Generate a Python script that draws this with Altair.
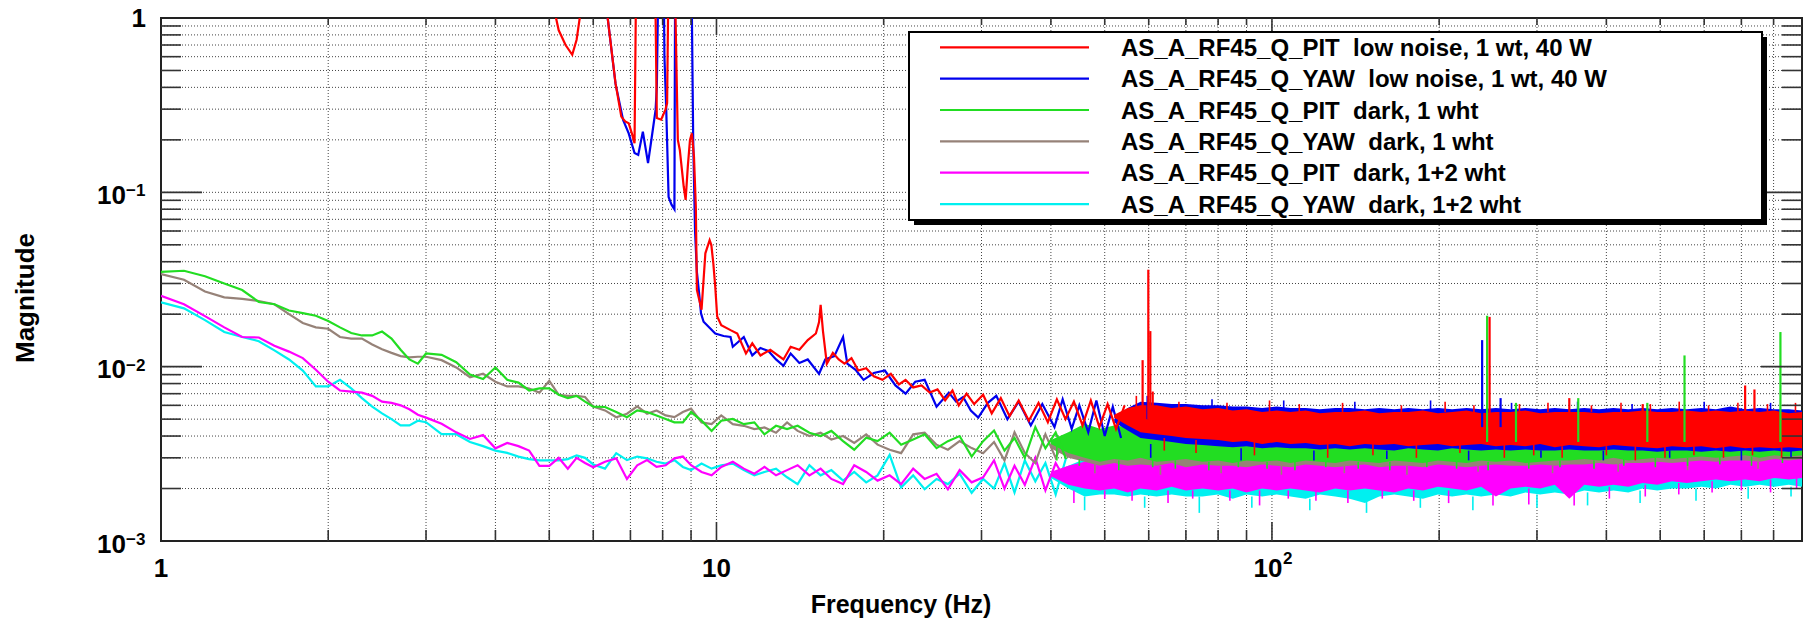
import altair as alt
import pandas as pd

FONT = "Liberation Sans"
W, H = 1641, 523          # plot area in pixels
MILLI = 1e-3              # all magnitudes below are written in units of 1e-3

# ---------------------------------------------------------------- colours
RED, BLUE, GREEN, BROWN, MAGENTA, CYAN = (
    "#ff0000", "#0000ee", "#22dd22", "#968278", "#ff00ff", "#00f0f0")

LEGEND_LABELS = [
    "AS_A_RF45_Q_PIT\u00a0\u00a0low noise, 1 wt, 40 W",
    "AS_A_RF45_Q_YAW\u00a0\u00a0low noise, 1 wt, 40 W",
    "AS_A_RF45_Q_PIT\u00a0\u00a0dark, 1 wht",
    "AS_A_RF45_Q_YAW\u00a0\u00a0dark, 1 wht",
    "AS_A_RF45_Q_PIT\u00a0\u00a0dark, 1+2 wht",
    "AS_A_RF45_Q_YAW\u00a0\u00a0dark, 1+2 wht",
]
LEGEND_COLORS = [RED, BLUE, GREEN, BROWN, MAGENTA, CYAN]

# ------------------------------------------- low-frequency traces, dark runs
FD = [1.0, 1.1, 1.2, 1.3, 1.4, 1.5, 1.6, 1.7, 1.8, 1.9,
      2.0, 2.1, 2.2, 2.3, 2.4, 2.5, 2.6, 2.7, 2.8, 2.9,
      3.0, 3.2, 3.4, 3.6, 3.8, 4.0, 4.2, 4.4, 4.6, 4.8,
      5.0, 5.2, 5.4, 5.6, 5.8, 6.0, 6.3, 6.6, 6.9, 7.2,
      7.5, 7.8, 8.1, 8.4, 8.7, 9.0, 9.4, 9.8, 10.2, 10.7,
      11.2, 11.7, 12.2, 12.8, 13.4, 14.0, 14.7, 15.4, 16.1, 16.9,
      17.7, 18.6, 19.5, 20.5, 21.5, 22.6, 23.7, 24.9, 26.1, 27.4,
      28.8, 30.2, 31.6, 33.0, 34.4, 35.9, 37.5, 39.1, 40.8, 42.6]

GREEN_LOW = [35.0, 35.5, 33.0, 30.0, 27.5, 23.5, 22.8, 21.0, 20.3, 19.6,
             18.3, 16.8, 15.6, 15.1, 15.1, 15.9, 14.5, 12.5, 11.0, 10.4,
             11.9, 11.7, 10.6, 9.0, 8.5, 9.9, 8.4, 8.1, 7.3, 7.5,
             7.5, 6.9, 6.6, 6.8, 6.3, 5.9, 5.87, 5.49, 5.13, 5.61,
             5.49, 5.25, 5.01, 4.79, 4.79, 5.49, 4.90, 4.28, 4.90, 5.01,
             4.68, 4.79, 4.09, 4.58, 4.38, 4.58, 4.18, 4.00, 4.28, 3.74,
             3.34, 3.91, 3.74, 4.18, 3.57, 3.82, 4.09, 3.41, 3.74, 4.00,
             3.05, 3.74, 4.3, 3.3, 3.9, 3.0, 4.5, 3.4, 4.2, 2.95]

BROWN_LOW = [34.0, 31.5, 27.0, 25.0, 24.5, 23.8, 22.8, 20.0, 17.8, 16.8,
             16.5, 14.8, 14.5, 14.5, 13.4, 12.6, 12.0, 11.5, 11.3, 11.4,
             11.4, 10.9, 9.9, 8.7, 9.1, 8.2, 7.7, 7.7, 7.5, 7.1,
             8.3, 6.9, 6.8, 6.8, 6.7, 5.9, 5.61, 5.13, 5.37, 5.92,
             5.37, 5.61, 5.25, 5.13, 5.49, 5.74, 4.79, 4.68, 5.25, 4.68,
             4.58, 4.38, 4.48, 4.18, 4.79, 4.28, 4.00, 4.18, 3.82, 4.00,
             3.65, 4.09, 3.57, 3.34, 3.19, 4.09, 4.18, 3.57, 3.34, 3.74,
             3.41, 3.19, 3.7, 2.9, 4.2, 3.2, 2.8, 4.1, 3.0, 4.0]

MAGENTA_LOW = [25.5, 22.8, 19.5, 16.8, 14.8, 14.7, 13.2, 12.2, 11.2, 9.6,
               8.2, 7.3, 7.2, 7.1, 6.8, 6.3, 6.2, 6.0, 5.7, 5.3,
               5.1, 4.7, 4.2, 3.85, 4.05, 3.4, 3.65, 3.5, 3.3, 2.7,
               2.7, 3.0, 2.6, 3.0, 2.8, 2.65, 2.85, 2.98, 2.27, 2.72,
               2.91, 2.66, 2.72, 2.98, 3.05, 2.72, 2.49, 2.38, 2.66, 2.85,
               2.60, 2.43, 2.66, 2.38, 2.55, 2.72, 2.38, 2.60, 2.27, 2.12,
               2.72, 2.49, 2.22, 2.38, 2.12, 2.60, 2.27, 2.43, 1.98, 2.55,
               2.17, 2.32, 2.9, 2.0, 2.7, 2.1, 3.0, 1.95, 2.8, 2.2]

CYAN_LOW = [23.4, 21.6, 18.5, 15.8, 14.8, 14.0, 12.4, 11.0, 9.5, 7.7,
            7.7, 8.4, 7.5, 6.6, 5.9, 5.4, 5.0, 4.6, 4.6, 4.9,
            4.8, 4.1, 4.1, 3.7, 3.5, 3.3, 3.2, 3.05, 2.95, 2.9,
            2.9, 2.9, 2.95, 3.1, 3.0, 2.75, 2.60, 3.19, 2.91, 3.05,
            2.98, 2.85, 2.78, 2.91, 2.66, 2.55, 2.78, 2.60, 2.72, 2.78,
            2.55, 2.38, 2.49, 2.60, 2.32, 2.12, 2.72, 2.38, 2.55, 2.22,
            2.49, 2.17, 2.38, 3.12, 2.03, 2.38, 1.98, 2.27, 2.12, 2.43,
            1.89, 2.27, 2.0, 2.8, 1.9, 2.9, 2.2, 2.8, 1.85, 3.0]

# ------------------------------------------ low-frequency traces, 40 W lock
# (values of 3000 sit above the top of the plot and are clipped)
RED_F = [4.5, 5.05, 5.2, 5.35, 5.5, 5.6, 5.72, 5.8, 6.2, 6.37,
         6.47, 6.58, 6.74, 6.85, 6.95, 7.05, 7.12, 7.18, 7.7, 7.77,
         7.81, 7.95, 8.09, 8.15, 8.21, 8.4, 8.44, 8.52, 8.59, 8.73,
         8.80, 8.88, 8.96, 9.03, 9.11, 9.18, 9.22, 9.31, 9.40, 9.55,
         9.72, 9.79, 9.87, 9.95, 10.03, 10.2, 10.6, 10.9, 11.3, 11.6,
         12.0, 12.5, 13.2, 13.6, 14.1, 14.6, 15.1, 15.3, 15.4, 15.55,
         15.8, 16.2, 16.6, 17.0, 17.5, 18.0, 18.6, 19.2, 19.9, 20.6,
         21.3, 21.9, 22.6, 23.4, 24.2, 25.0, 25.8, 26.6, 27.3, 28.2,
         29.1, 30.2, 31.3, 32.5, 33.7, 35.0, 36.5, 38.0, 39.5, 41.0,
         42.5, 44.0, 45.6, 47.2, 48.9, 50.6, 52.4, 54.3]
RED_M = [3000, 1300, 850, 700, 615, 750, 1200, 3000, 3000, 1000,
         660, 423, 272, 255, 249, 215, 191, 3000, 3000, 1000,
         267, 261, 297, 325, 3000, 3000, 1000, 200, 175, 108,
         90.6, 141, 200, 218, 160, 83, 27.6, 24.2, 21.2, 44.7,
         53.2, 49.8, 39.2, 28.7, 19.4, 17.3, 16.2, 15.5, 11.9, 13.6,
         11.6, 12.5, 11.0, 13.0, 12.5, 14.2, 15.5, 18.0, 22.6, 16.0,
         10.4, 12.0, 11.0, 10.4, 11.2, 9.5, 9.8, 8.8, 8.4, 9.1,
         7.9, 8.4, 7.6, 7.8, 7.1, 7.4, 6.4, 7.3, 6.0, 7.0,
         6.1, 6.9, 5.4, 6.6, 5.2, 6.4, 4.9, 6.2, 4.8, 6.5,
         5.0, 6.3, 4.6, 6.4, 4.5, 6.1, 4.4, 6.0]

BLUE_F = [6.0, 6.37, 6.58, 6.79, 6.95, 7.12, 7.23, 7.37, 7.53, 7.65,
          7.77, 7.81, 7.88, 8.02, 8.06, 8.12, 8.2, 8.3, 8.4, 8.43,
          9.0, 9.08, 9.15, 9.22, 9.31, 9.38, 9.48, 9.95, 10.3, 10.6,
          10.7, 11.2, 11.6, 12.0, 12.4, 12.8, 13.2, 13.6, 14.1, 14.6,
          15.3, 15.7, 16.3, 16.9, 17.2, 17.8, 18.4, 19.2, 20.1, 21.0,
          21.9, 22.8, 23.7, 24.9, 26.2, 27.0, 27.8, 28.7, 29.6, 30.8,
          31.9, 33.4, 35.0, 36.8, 38.6, 40.6, 42.0, 43.6, 45.0, 46.7,
          48.3, 50.0, 51.7, 53.5]
BLUE_M = [3000, 1000, 420, 260, 218, 168, 164, 223, 147, 209,
          297, 404, 3000, 3000, 600, 300, 94, 85, 80, 3000,
          3000, 200, 60, 35, 26, 20.2, 18.1, 15.5, 15.0, 14.8,
          13.0, 14.8, 11.6, 12.8, 12.3, 11.0, 10.1, 11.9, 10.5, 11.0,
          9.1, 11.0, 11.5, 14.8, 10.4, 9.6, 8.4, 9.2, 9.5, 7.8,
          7.0, 8.2, 8.4, 5.9, 7.1, 6.3, 6.7, 5.6, 5.1, 6.2,
          6.8, 5.0, 6.3, 4.6, 6.1, 4.5, 6.5, 4.4, 6.0, 4.2,
          6.4, 4.0, 5.9, 3.9]

# ------------------------------- dense high-frequency noise: upper / lower
FB = [40, 43, 46, 49, 52, 55, 58, 62, 66, 70,
      75, 80, 85, 90, 96, 102, 108, 115, 122, 130,
      138, 147, 156, 166, 176, 187, 199, 211, 224, 238,
      253, 269, 286, 304, 323, 343, 365, 388, 412, 438,
      465, 494, 525, 558, 593, 630, 669, 711, 755, 802,
      852, 900]

# red and blue bands begin at 52 Hz (FB[4:])
RED_HI = [5.3, 5.8, 6.0, 6.0, 5.8, 5.9, 5.7, 5.8, 5.6, 5.7,
          5.5, 5.6, 5.5, 5.6, 5.4, 5.5, 5.5, 5.6, 5.4, 5.5,
          5.5, 5.6, 5.4, 5.5, 5.6, 5.4, 5.5, 5.5, 5.6, 5.4,
          5.5, 5.5, 5.5, 5.4, 5.5, 5.5, 5.6, 5.5, 5.5, 5.6,
          5.5, 5.6, 5.5, 5.6, 5.5, 5.6, 5.4, 5.5]
RED_LO = [5.1, 4.6, 4.2, 4.1, 4.0, 3.9, 3.85, 3.8, 3.7, 3.75,
          3.6, 3.7, 3.6, 3.65, 3.55, 3.6, 3.5, 3.6, 3.55, 3.6,
          3.5, 3.55, 3.6, 3.5, 3.55, 3.6, 3.5, 3.55, 3.5, 3.6,
          3.45, 3.55, 3.5, 3.45, 3.55, 3.5, 3.45, 3.4, 3.5, 3.45,
          3.5, 3.4, 3.5, 3.4, 3.45, 3.4, 3.45, 3.4]
BLUE_HI = [5.0, 5.8, 6.3, 6.2, 6.1, 6.1, 6.0, 6.0, 5.9, 5.9,
           5.8, 5.9, 5.8, 5.8, 5.7, 5.8, 5.8, 5.7, 5.8, 5.7,
           5.8, 5.7, 5.8, 5.7, 5.8, 5.7, 5.8, 5.7, 5.8, 5.7,
           5.8, 5.7, 5.8, 5.7, 5.8, 5.7, 5.8, 5.7, 5.8, 5.7,
           5.8, 5.7, 5.9, 5.7, 5.8, 5.7, 5.7, 5.6]
BLUE_LO = [4.8, 4.3, 3.9, 3.8, 3.7, 3.6, 3.55, 3.5, 3.45, 3.5,
           3.4, 3.45, 3.4, 3.4, 3.35, 3.4, 3.35, 3.4, 3.35, 3.3,
           3.4, 3.35, 3.3, 3.4, 3.35, 3.3, 3.35, 3.3, 3.35, 3.3,
           3.3, 3.35, 3.3, 3.3, 3.35, 3.3, 3.3, 3.25, 3.3, 3.3,
           3.25, 3.3, 3.25, 3.3, 3.25, 3.3, 3.25, 3.3]

GREEN_HI = [3.8, 4.2, 4.7, 4.4, 4.6, 4.5, 4.5, 4.4, 4.6, 4.3,
            4.4, 4.4, 4.3, 4.5, 4.3, 4.2, 4.4, 4.3, 4.2, 4.3,
            4.4, 4.2, 4.3, 4.3, 4.2, 4.4, 4.3, 4.2, 4.3, 4.3,
            4.4, 4.2, 4.3, 4.2, 4.3, 4.4, 4.3, 4.3, 4.4, 4.3,
            4.4, 4.4, 4.3, 4.5, 4.4, 4.4, 4.3, 4.5, 4.4, 4.5,
            4.4, 4.5]
GREEN_LO = [3.6, 3.2, 3.0, 2.85, 2.95, 2.9, 3.0, 2.85, 2.9, 2.95,
            2.85, 2.9, 2.8, 2.9, 2.85, 2.9, 2.8, 2.9, 2.85, 2.8,
            2.9, 2.85, 2.8, 2.9, 2.85, 2.8, 2.9, 2.85, 2.8, 2.9,
            2.85, 2.9, 2.8, 2.85, 2.9, 2.9, 2.95, 2.9, 3.0, 2.9,
            2.95, 3.0, 2.95, 3.0, 3.05, 3.0, 3.05, 3.1, 3.0, 3.1,
            3.05, 3.1]

BROWN_HI = [3.6, 3.9, 4.4, 4.2, 4.3, 4.2, 4.3, 4.1, 4.2, 4.1,
            4.2, 4.1, 4.0, 4.2, 4.1, 4.0, 4.1, 4.2, 4.0, 4.1,
            4.1, 4.0, 4.1, 4.2, 4.0, 4.1, 4.0, 4.1, 4.2, 4.0,
            4.1, 4.1, 4.0, 4.1, 4.1, 4.2, 4.1, 4.1, 4.2, 4.1,
            4.2, 4.2, 4.1, 4.2, 4.2, 4.3, 4.2, 4.2, 4.3, 4.2,
            4.3, 4.2]
BROWN_LO = [3.4, 3.0, 2.85, 2.7, 2.8, 2.7, 2.75, 2.7, 2.8, 2.65,
            2.75, 2.7, 2.7, 2.65, 2.75, 2.7, 2.65, 2.75, 2.7, 2.65,
            2.7, 2.75, 2.65, 2.7, 2.7, 2.65, 2.75, 2.7, 2.65, 2.7,
            2.75, 2.7, 2.7, 2.75, 2.7, 2.75, 2.75, 2.8, 2.75, 2.8,
            2.8, 2.85, 2.8, 2.85, 2.9, 2.85, 2.9, 2.9, 2.85, 2.95,
            2.9, 2.95]

MAGENTA_HI = [2.5, 2.7, 2.85, 2.95, 2.9, 2.85, 2.95, 2.9, 2.85, 2.95,
              2.9, 2.95, 2.85, 2.9, 2.95, 2.9, 2.85, 2.95, 2.9, 2.95,
              2.9, 2.85, 2.95, 2.9, 2.95, 3.0, 2.95, 3.0, 3.05, 3.0,
              3.05, 3.1, 3.05, 3.1, 3.15, 3.1, 3.15, 3.2, 3.15, 3.2,
              3.25, 3.2, 3.3, 3.25, 3.3, 3.35, 3.3, 3.4, 3.35, 3.4,
              3.35, 3.4]
MAGENTA_LO = [2.35, 2.1, 2.0, 1.95, 2.0, 1.9, 2.0, 1.95, 2.05, 1.95,
              2.0, 1.95, 2.0, 1.9, 2.0, 1.95, 2.0, 1.95, 1.9, 2.0,
              1.95, 2.0, 1.95, 1.9, 2.0, 1.95, 2.05, 2.0, 1.95, 2.05,
              1.8, 2.0, 2.05, 2.0, 2.1, 1.75, 2.1, 2.05, 2.1, 2.05,
              2.15, 2.1, 2.2, 2.15, 2.2, 2.25, 2.2, 2.25, 2.2, 2.3,
              2.25, 2.3]

CYAN_HI = [2.45, 2.7, 2.95, 2.9, 2.95, 2.9, 3.0, 2.9, 2.95, 3.0,
           2.95, 2.9, 3.0, 2.95, 3.0, 2.95, 2.9, 3.0, 2.95, 3.0,
           2.95, 2.9, 3.0, 2.95, 3.0, 3.05, 3.0, 3.05, 3.0, 3.1,
           3.05, 3.1, 3.1, 3.15, 3.2, 3.15, 3.2, 3.25, 3.2, 3.25,
           3.3, 3.25, 3.35, 3.3, 3.35, 3.4, 3.35, 3.45, 3.4, 3.45,
           3.4, 3.45]
CYAN_LO = [2.3, 2.0, 1.8, 1.85, 1.85, 1.8, 1.85, 1.8, 1.85, 1.8,
           1.8, 1.85, 1.75, 1.85, 1.8, 1.85, 1.8, 1.75, 1.85, 1.8,
           1.75, 1.65, 1.8, 1.85, 1.8, 1.75, 1.85, 1.8, 1.85, 1.8,
           1.85, 1.8, 1.9, 1.85, 1.9, 1.85, 1.95, 1.9, 1.95, 1.9,
           2.0, 1.95, 2.0, 2.0, 2.05, 2.0, 2.1, 2.05, 2.1, 2.05,
           2.1, 2.05]

# short excursions poking out of each noise band: frequency, from, to
RED_FUZZ_F = [57, 64, 68, 73, 83, 93, 99, 112, 126, 134,
              152, 171, 182, 205, 218, 231, 262, 279, 296, 314,
              333, 376, 400, 425, 451, 480, 510, 541, 575, 611,
              650, 690, 733, 780, 827, 876]
RED_FUZZ_A = [5.8, 3.9, 5.5, 3.8, 5.5, 3.7, 5.5, 5.5, 3.6, 5.5,
              3.6, 5.5, 3.6, 5.5, 3.6, 5.5, 3.6, 5.5, 3.6, 5.5,
              3.5, 5.5, 3.5, 5.5, 3.5, 5.5, 3.5, 5.5, 3.5, 5.5,
              3.5, 5.5, 3.5, 5.5, 3.5, 5.5]
RED_FUZZ_B = [6.8, 3.3, 6.3, 3.2, 6.2, 3.1, 6.4, 6.1, 3.0, 6.2,
              3.1, 6.0, 3.0, 6.3, 3.2, 6.0, 3.0, 6.1, 3.1, 6.2,
              3.0, 6.0, 3.1, 6.2, 2.9, 6.1, 3.0, 6.3, 3.1, 6.0,
              3.0, 6.2, 3.1, 6.1, 3.0, 6.2]

BLUE_FUZZ_F = [60.5, 78, 88, 105, 119, 141, 161, 193, 226, 270,
               305, 355, 395, 445, 520, 600, 700, 790, 860]
BLUE_FUZZ_A = [3.6, 5.7, 3.4, 5.7, 3.3, 5.7, 3.3, 5.7, 3.3, 5.7,
               3.3, 5.7, 3.3, 5.7, 3.3, 5.7, 3.3, 5.7, 3.3]
BLUE_FUZZ_B = [3.0, 6.5, 2.9, 6.4, 2.9, 6.3, 2.95, 6.4, 2.9, 6.2,
               3.0, 6.3, 2.9, 6.1, 3.0, 6.3, 2.9, 6.2, 3.0]

GREEN_FUZZ_F = [41, 45, 53, 61, 67, 77, 87, 98, 110, 125,
                143, 163, 190, 215, 245, 290, 330, 380, 430, 490,
                560, 640, 730, 830]
GREEN_FUZZ_A = [3.5, 2.95, 2.9, 2.9, 2.9, 2.85, 2.85, 2.85, 2.85, 2.85,
                2.85, 2.85, 2.85, 2.85, 2.85, 2.85, 2.9, 2.9, 2.95, 3.0,
                3.0, 3.05, 3.05, 3.1]
GREEN_FUZZ_B = [2.9, 2.7, 2.55, 2.65, 2.6, 2.55, 2.65, 2.6, 2.55, 2.65,
                2.6, 2.55, 2.65, 2.6, 2.55, 2.6, 2.65, 2.6, 2.7, 2.65,
                2.7, 2.75, 2.7, 2.8]

BROWN_FUZZ_F = [48, 63, 81, 104, 135, 175, 235, 320, 420, 560, 750]
BROWN_FUZZ_A = [2.75, 2.7, 2.7, 2.7, 2.7, 2.7, 2.7, 2.7, 2.8, 2.85, 2.85]
BROWN_FUZZ_B = [2.45, 2.4, 2.45, 2.4, 2.45, 2.4, 2.5, 2.45, 2.5, 2.55, 2.6]

MAGENTA_FUZZ_F = [44, 50, 56, 65, 72, 84, 95, 107, 120, 137,
                  158, 180, 208, 250, 290, 350, 405, 470, 540, 620,
                  700, 790, 880]
MAGENTA_FUZZ_A = [1.95, 1.95, 1.95, 1.95, 1.95, 1.95, 1.95, 1.95, 1.95, 1.95,
                  1.95, 1.95, 1.95, 2.0, 2.0, 2.0, 2.05, 2.1, 2.15, 2.2,
                  2.25, 2.25, 2.3]
MAGENTA_FUZZ_B = [1.65, 1.75, 1.7, 1.65, 1.75, 1.7, 1.6, 1.75, 1.7, 1.65,
                  1.75, 1.7, 1.65, 1.6, 1.62, 1.6, 1.75, 1.8, 1.85, 1.9,
                  1.95, 1.9, 2.0]

CYAN_FUZZ_F = [46, 59, 74, 92, 117, 148, 185, 230, 300, 370,
               460, 580, 720, 860]
CYAN_FUZZ_A = [1.8, 1.8, 1.8, 1.8, 1.75, 1.75, 1.8, 1.8, 1.85, 1.9,
               1.95, 2.0, 2.05, 2.05]
CYAN_FUZZ_B = [1.5, 1.55, 1.45, 1.55, 1.5, 1.45, 1.55, 1.5, 1.55, 1.6,
               1.65, 1.7, 1.75, 1.8]

# ------------------------------------------------ narrow lines (spikes)
RED_SPIKE_F = [58.5, 59.9, 60.4, 61.0, 246.5, 343, 465, 711, 739]
RED_SPIKE_TOP = [10.9, 36.0, 16.0, 7.2, 19.3, 6.6, 6.1, 7.8, 7.4]
RED_SPIKE_BASE = [5.0, 5.0, 5.0, 5.0, 4.5, 4.5, 4.5, 4.5, 4.5]
BLUE_SPIKE_F = [59.7, 239, 258]
BLUE_SPIKE_TOP = [6.8, 14.2, 6.6]
BLUE_SPIKE_BASE = [5.0, 4.5, 4.5]
GREEN_SPIKE_F = [244, 275, 356, 474, 553, 823]
GREEN_SPIKE_TOP = [19.6, 6.2, 6.6, 6.2, 11.6, 15.8]
GREEN_SPIKE_BASE = [3.7, 3.7, 3.7, 3.7, 3.7, 3.7]

# ------------------------------------------------------------ axes / grid
X_MINOR = [2, 3, 4, 5, 6, 7, 8, 9, 20, 30, 40, 50, 60, 70, 80, 90,
           200, 300, 400, 500, 600, 700, 800]
X_MAJOR = [10, 100]
Y_MINOR = [0.002, 0.003, 0.004, 0.005, 0.006, 0.007, 0.008, 0.009,
           0.02, 0.03, 0.04, 0.05, 0.06, 0.07, 0.08, 0.09,
           0.2, 0.3, 0.4, 0.5, 0.6, 0.7, 0.8, 0.9]
Y_MAJOR = [0.01, 0.1]
Y_LABEL_VALUES = [0.1, 0.01, 0.001]
Y_LABEL_EXP = ["\u22121", "\u22122", "\u22123"]

xs = alt.Scale(type="log", domain=[1, 900], nice=False)
ys = alt.Scale(type="log", domain=[1e-3, 1], nice=False)


def X(field="f"):
    return alt.X(f"{field}:Q", scale=xs, axis=None)


def Y(field="m"):
    return alt.Y(f"{field}:Q", scale=ys, axis=None)


def dummy():
    return pd.DataFrame({"k": [0]})


def line_layer(freqs, vals, color):
    df = pd.DataFrame({"f": freqs, "m": [v * MILLI for v in vals]})
    return alt.Chart(df).mark_line(color=color, strokeWidth=2.2, clip=True).encode(
        x=X(), y=Y())


def band_layer(freqs, hi, lo, color):
    df = pd.DataFrame({"f": freqs,
                       "hi": [v * MILLI for v in hi],
                       "lo": [v * MILLI for v in lo]})
    return alt.Chart(df).mark_area(color=color, opacity=1, clip=True).encode(
        x=X(), y=Y("hi"), y2=alt.Y2("lo:Q"))


def rule_layer(freqs, a, b, color, width=2.2):
    df = pd.DataFrame({"f": freqs,
                       "a": [v * MILLI for v in a],
                       "b": [v * MILLI for v in b]})
    return alt.Chart(df).mark_rule(color=color, strokeWidth=width, clip=True).encode(
        x=X(), y=Y("a"), y2=alt.Y2("b:Q"))


grid_style = dict(color="#444", strokeWidth=1, strokeDash=[1, 2])
tick_style = dict(color="#333", strokeWidth=1.6)

gx = pd.DataFrame({"f": X_MINOR + X_MAJOR})
gy = pd.DataFrame({"m": Y_MINOR + Y_MAJOR})
txm = pd.DataFrame({"f": X_MINOR})
txM = pd.DataFrame({"f": X_MAJOR})
tym = pd.DataFrame({"m": Y_MINOR})
tyM = pd.DataFrame({"m": Y_MAJOR})

layers = [
    alt.Chart(gx).mark_rule(**grid_style).encode(x=X(), y=alt.value(0), y2=alt.value(H)),
    alt.Chart(gy).mark_rule(**grid_style).encode(y=Y(), x=alt.value(0), x2=alt.value(W)),
]

# traces, drawn so that the red run ends up on top
FB_RB = FB[4:]
layers += [
    band_layer(FB, CYAN_HI, CYAN_LO, CYAN), line_layer(FD, CYAN_LOW, CYAN),
    rule_layer(CYAN_FUZZ_F, CYAN_FUZZ_A, CYAN_FUZZ_B, CYAN, 1.6),
    band_layer(FB, MAGENTA_HI, MAGENTA_LO, MAGENTA), line_layer(FD, MAGENTA_LOW, MAGENTA),
    rule_layer(MAGENTA_FUZZ_F, MAGENTA_FUZZ_A, MAGENTA_FUZZ_B, MAGENTA, 1.6),
    band_layer(FB, BROWN_HI, BROWN_LO, BROWN), line_layer(FD, BROWN_LOW, BROWN),
    rule_layer(BROWN_FUZZ_F, BROWN_FUZZ_A, BROWN_FUZZ_B, BROWN, 1.6),
    band_layer(FB, GREEN_HI, GREEN_LO, GREEN), line_layer(FD, GREEN_LOW, GREEN),
    rule_layer(GREEN_FUZZ_F, GREEN_FUZZ_A, GREEN_FUZZ_B, GREEN, 1.6),
    band_layer(FB_RB, BLUE_HI, BLUE_LO, BLUE), line_layer(BLUE_F, BLUE_M, BLUE),
    rule_layer(BLUE_FUZZ_F, BLUE_FUZZ_A, BLUE_FUZZ_B, BLUE, 1.6),
    band_layer(FB_RB, RED_HI, RED_LO, RED), line_layer(RED_F, RED_M, RED),
    rule_layer(RED_FUZZ_F, RED_FUZZ_A, RED_FUZZ_B, RED, 1.6),
    rule_layer(GREEN_SPIKE_F, GREEN_SPIKE_BASE, GREEN_SPIKE_TOP, GREEN),
    rule_layer(BLUE_SPIKE_F, BLUE_SPIKE_BASE, BLUE_SPIKE_TOP, BLUE),
    rule_layer(RED_SPIKE_F, RED_SPIKE_BASE, RED_SPIKE_TOP, RED),
]

# tick marks on all four sides
layers += [
    alt.Chart(txm).mark_rule(**tick_style).encode(x=X(), y=alt.value(H), y2=alt.value(H - 11)),
    alt.Chart(txM).mark_rule(**tick_style).encode(x=X(), y=alt.value(H), y2=alt.value(H - 19)),
    alt.Chart(txm).mark_rule(**tick_style).encode(x=X(), y=alt.value(0), y2=alt.value(7)),
    alt.Chart(txM).mark_rule(**tick_style).encode(x=X(), y=alt.value(0), y2=alt.value(17)),
    alt.Chart(tym).mark_rule(**tick_style).encode(y=Y(), x=alt.value(0), x2=alt.value(20)),
    alt.Chart(tyM).mark_rule(**tick_style).encode(y=Y(), x=alt.value(0), x2=alt.value(41)),
    alt.Chart(tym).mark_rule(**tick_style).encode(y=Y(), x=alt.value(W), x2=alt.value(W - 20)),
    alt.Chart(tyM).mark_rule(**tick_style).encode(y=Y(), x=alt.value(W), x2=alt.value(W - 41)),
]

# tick labels
lab = dict(font=FONT, fontWeight="bold", color="black")
ylab = pd.DataFrame({"m": Y_LABEL_VALUES, "e": Y_LABEL_EXP})
layers += [
    alt.Chart(pd.DataFrame({"m": [1.0]})).mark_text(
        align="right", baseline="alphabetic", fontSize=26, dy=8.5, **lab).encode(
        y=Y(), x=alt.value(-15), text=alt.value("1")),
    alt.Chart(ylab).mark_text(
        align="right", baseline="alphabetic", fontSize=26, dy=11.5, **lab).encode(
        y=Y(), x=alt.value(-35), text=alt.value("10")),
    alt.Chart(ylab).mark_text(
        align="left", baseline="alphabetic", fontSize=17, dy=4, **lab).encode(
        y=Y(), x=alt.value(-35), text="e:N"),
    alt.Chart(pd.DataFrame({"f": [1, 10], "t": ["1", "10"]})).mark_text(
        align="center", baseline="alphabetic", fontSize=26, **lab).encode(
        x=X(), y=alt.value(H + 36), text="t:N"),
    alt.Chart(pd.DataFrame({"f": [100]})).mark_text(
        align="center", baseline="alphabetic", fontSize=26, dx=-4, **lab).encode(
        x=X(), y=alt.value(H + 36), text=alt.value("10")),
    alt.Chart(pd.DataFrame({"f": [100]})).mark_text(
        align="left", baseline="alphabetic", fontSize=17, dx=11, **lab).encode(
        x=X(), y=alt.value(H + 23), text=alt.value("2")),
]

# axis titles
layers += [
    alt.Chart(dummy()).mark_text(
        angle=270, align="center", baseline="middle", fontSize=26, **lab).encode(
        x=alt.value(-135), y=alt.value(280), text=alt.value("Magnitude")),
    alt.Chart(dummy()).mark_text(
        align="center", baseline="alphabetic", fontSize=25, **lab).encode(
        x=alt.value(740), y=alt.value(H + 72), text=alt.value("Frequency (Hz)")),
]

# legend box with drop shadow
LEG_X0, LEG_X1, LEG_Y0, LEG_Y1 = 748, 1601, 14, 202
layers += [
    alt.Chart(dummy()).mark_rect(fill="black").encode(
        x=alt.value(LEG_X0 + 5), x2=alt.value(LEG_X1 + 5),
        y=alt.value(LEG_Y0 + 5), y2=alt.value(LEG_Y1 + 5)),
    alt.Chart(dummy()).mark_rect(fill="white", stroke="black", strokeWidth=2).encode(
        x=alt.value(LEG_X0), x2=alt.value(LEG_X1),
        y=alt.value(LEG_Y0), y2=alt.value(LEG_Y1)),
]
for i, (label, color) in enumerate(zip(LEGEND_LABELS, LEGEND_COLORS)):
    row_y = 29.3 + 31.35 * i
    layers.append(alt.Chart(dummy()).mark_rule(color=color, strokeWidth=2.2).encode(
        x=alt.value(779), x2=alt.value(928), y=alt.value(row_y)))
    layers.append(alt.Chart(dummy()).mark_text(
        align="left", baseline="alphabetic", fontSize=24, **lab).encode(
        x=alt.value(960), y=alt.value(row_y + 8.5), text=alt.value(label)))

chart = alt.layer(*layers).properties(
    width=W, height=H,
    padding={"left": 161, "top": 18, "right": 1, "bottom": 81},
    autosize=alt.AutoSizeParams(type="none"),
    background="white",
).configure_view(stroke="#222", strokeWidth=2)

chart.save("out.html", embed_options={"renderer": "svg", "actions": False})
